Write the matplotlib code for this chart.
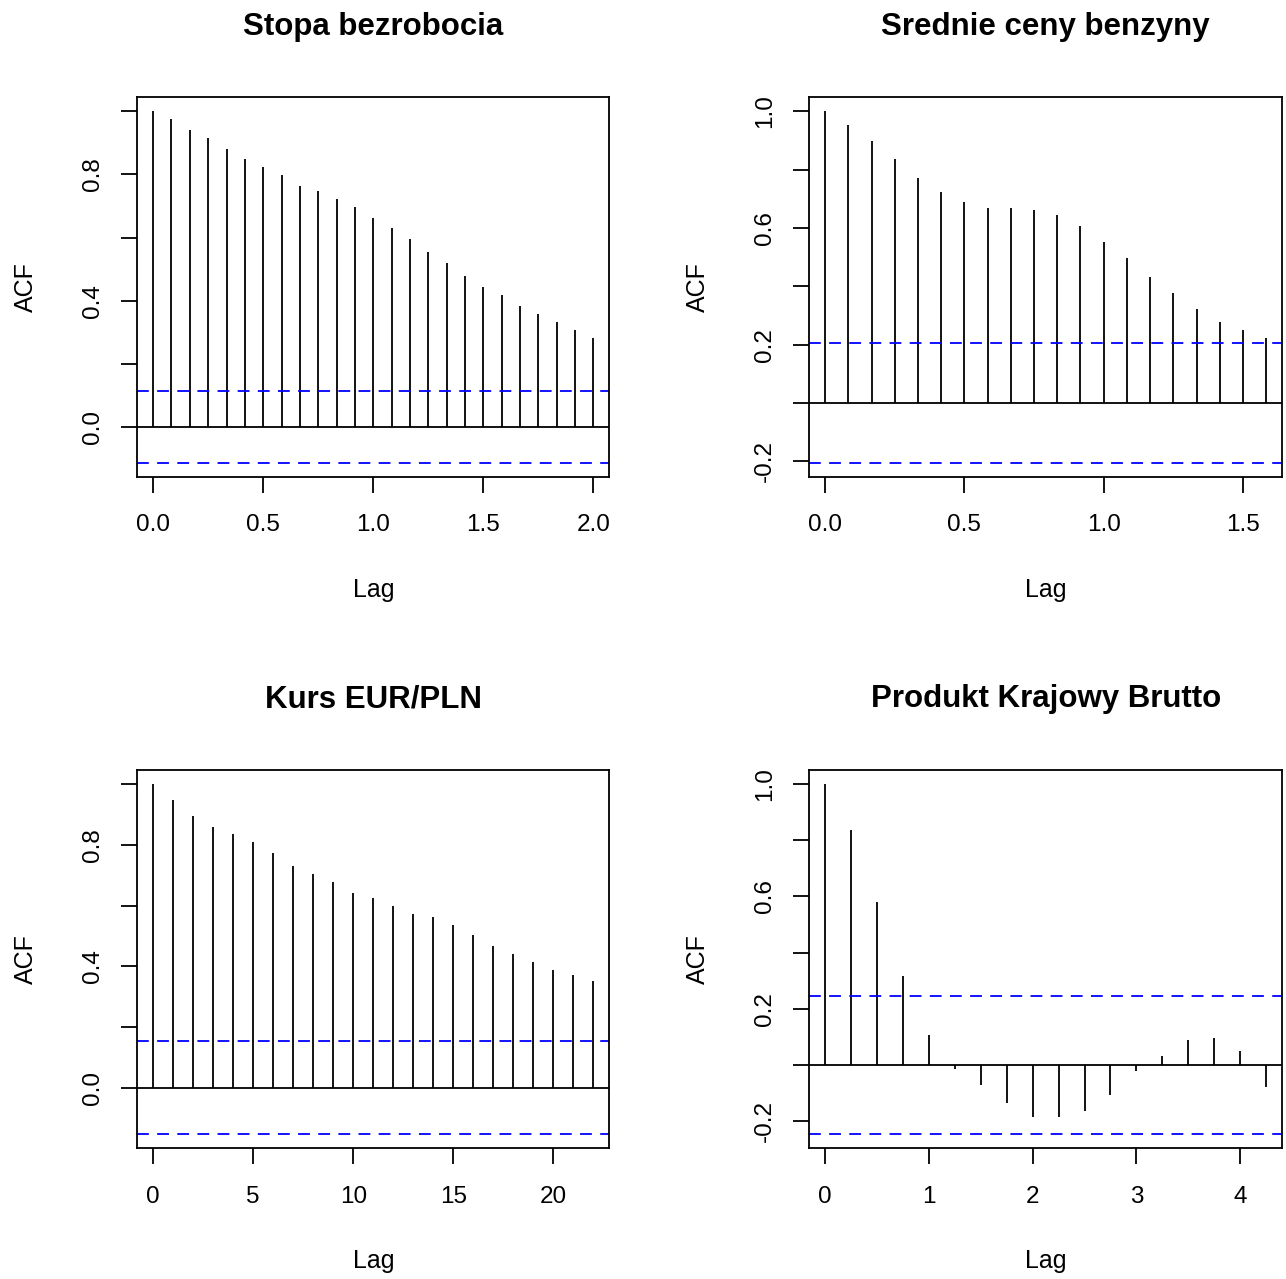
import numpy as np
import matplotlib
matplotlib.use("Agg")
import matplotlib.pyplot as plt

plt.rcParams['font.family'] = ['Liberation Sans', 'DejaVu Sans']
plt.rcParams['lines.scale_dashes'] = False

# ---- data ----
titles = ["Stopa bezrobocia", "Srednie ceny benzyny", "Kurs EUR/PLN", "Produkt Krajowy Brutto"]

acf_bezrobocie = [1.0, 0.975, 0.941, 0.916, 0.882, 0.848, 0.823, 0.797, 0.764, 0.747,
                  0.722, 0.696, 0.662, 0.629, 0.595, 0.553, 0.519, 0.477, 0.443, 0.418,
                  0.384, 0.359, 0.333, 0.308, 0.283]
acf_benzyna = [1.0, 0.954, 0.899, 0.835, 0.771, 0.725, 0.689, 0.670, 0.670, 0.661,
               0.643, 0.606, 0.551, 0.497, 0.433, 0.378, 0.323, 0.277, 0.249, 0.222]
acf_eurpln = [1.0, 0.948, 0.895, 0.860, 0.834, 0.808, 0.773, 0.729, 0.703, 0.677,
              0.642, 0.624, 0.598, 0.572, 0.563, 0.537, 0.502, 0.467, 0.440, 0.414,
              0.388, 0.370, 0.353]
acf_pkb = [1.0, 0.838, 0.581, 0.315, 0.106, -0.013, -0.070, -0.137, -0.184, -0.184,
           -0.165, -0.108, -0.023, 0.030, 0.087, 0.096, 0.049, -0.080]

frequencies = [12, 12, 1, 4]          # lag units per series
ci_levels = [0.113, 0.205, 0.153, 0.247]

xticks = [[0.0, 0.5, 1.0, 1.5, 2.0], [0.0, 0.5, 1.0, 1.5], [0, 5, 10, 15, 20], [0, 1, 2, 3, 4]]
xticklabels = [["0.0", "0.5", "1.0", "1.5", "2.0"], ["0.0", "0.5", "1.0", "1.5"],
               ["0", "5", "10", "15", "20"], ["0", "1", "2", "3", "4"]]
yticks = [[0.0, 0.2, 0.4, 0.6, 0.8, 1.0], [-0.2, 0.0, 0.2, 0.4, 0.6, 0.8, 1.0],
          [0.0, 0.2, 0.4, 0.6, 0.8, 1.0], [-0.2, 0.0, 0.2, 0.4, 0.6, 0.8, 1.0]]
yticklabels = [["0.0", "", "0.4", "", "0.8", ""], ["-0.2", "", "0.2", "", "0.6", "", "1.0"],
               ["0.0", "", "0.4", "", "0.8", ""], ["-0.2", "", "0.2", "", "0.6", "", "1.0"]]

series = [acf_bezrobocie, acf_benzyna, acf_eurpln, acf_pkb]

# ---- layout ----
W, H = 1286, 1279
fig = plt.figure(figsize=(W / 100, H / 100), dpi=100)

boxes = [(137.3, 97.3, 609.3, 476.7), (809.3, 97.3, 1282.0, 476.7),
         (137.3, 770.0, 609.3, 1148.3), (809.3, 770.0, 1282.0, 1148.3)]

LW = 1.3
for i, (l, t, r, b) in enumerate(boxes):
    ax = fig.add_axes([l / W, (H - b) / H, (r - l) / W, (b - t) / H])
    acf = np.array(series[i])
    lags = np.arange(len(acf)) / frequencies[i]
    ci = ci_levels[i]

    ax.vlines(lags, 0, acf, colors='black', lw=LW)
    ax.axhline(0, color='black', lw=LW)
    for s in (ci, -ci):
        ax.axhline(s, color='#0000ff', lw=LW, ls=(0, (8.5, 6)))

    xr = lags.max() - lags.min()
    ax.set_xlim(lags.min() - 0.036 * xr, lags.max() + 0.036 * xr)
    ylo = min(acf.min(), -ci)
    yhi = max(acf.max(), ci)
    yr = yhi - ylo
    ax.set_ylim(ylo - 0.04 * yr, yhi + 0.04 * yr)

    ax.set_xticks(xticks[i])
    ax.set_xticklabels(xticklabels[i])
    ax.set_yticks(yticks[i])
    ax.set_yticklabels(yticklabels[i])

    for sp in ax.spines.values():
        sp.set_linewidth(LW)
    ax.tick_params(axis='both', direction='out', length=11.5, width=LW,
                   labelsize=17.5, colors='black')
    ax.tick_params(axis='x', pad=15.5)
    ax.tick_params(axis='y', pad=12.5, labelrotation=90)
    for lab in ax.get_yticklabels():
        lab.set_va('center')

    ax.set_title(titles[i], fontsize=22.5, fontweight='bold', pad=45)
    ax.set_xlabel("Lag", fontsize=18, va='center')
    ax.xaxis.set_label_coords(0.5, -0.298)
    ax.set_ylabel("ACF", fontsize=18, va='center')
    ax.yaxis.set_label_coords(-0.235, 0.5)

fig.savefig("out.png", dpi=100)
